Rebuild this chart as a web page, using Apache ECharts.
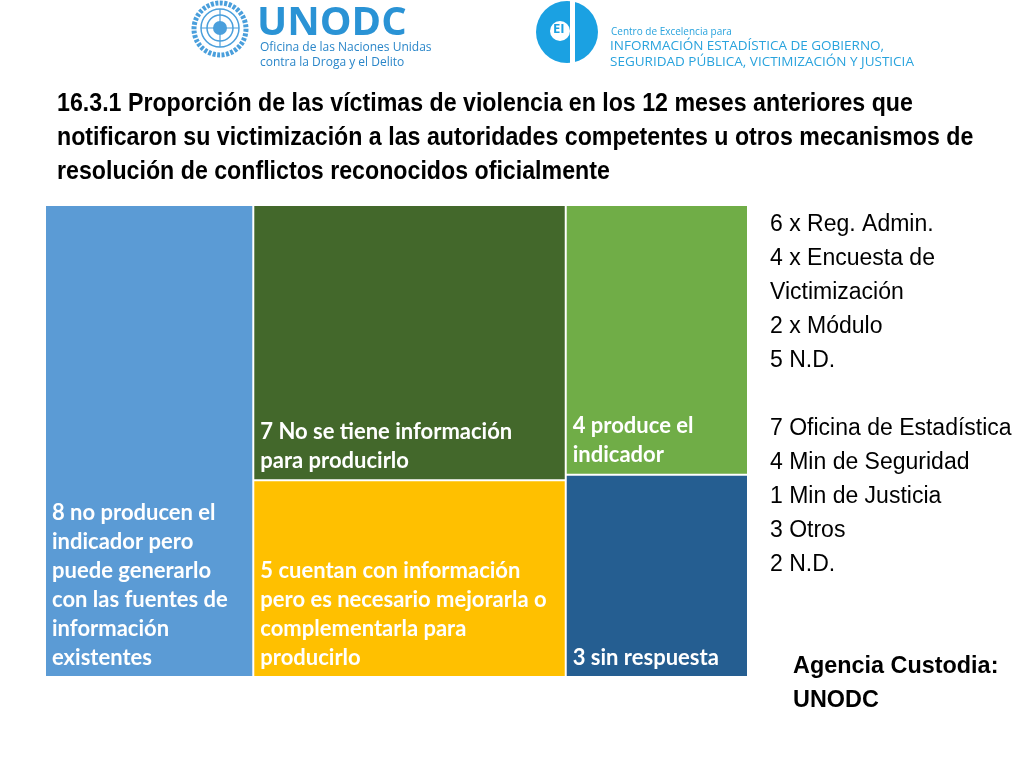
<!DOCTYPE html>
<html>
<head>
<meta charset="utf-8">
<script src="https://cdn.jsdelivr.net/npm/echarts@6/dist/echarts.min.js"></script>
<style>html,body{margin:0;padding:0;background:#fff;}#c{width:1024px;height:768px;}</style>
</head>
<body>
<div id="c"></div>
<script>
// ---- data ----
const leafNames = [
  '8 no producen el\nindicador pero\npuede generarlo\ncon las fuentes de\ninformación\nexistentes',
  '7 No se tiene información\npara producirlo',
  '5 cuentan con información\npero es necesario mejorarla o\ncomplementarla para\nproducirlo',
  '4 produce el\nindicador',
  '3 sin respuesta'
];
const leafValues = [8, 7, 5, 4, 3];
const leafGroup = [0, 1, 1, 2, 2];   // grouping (columns) as in the reference
const titleText = '16.3.1 Proporción de las víctimas de violencia en los 12 meses anteriores que\nnotificaron su victimización a las autoridades competentes u otros mecanismos de\nresolución de conflictos reconocidos oficialmente';
const sideLines = ['6 x Reg. Admin.', '4 x Encuesta de', 'Victimización', '2 x Módulo', '5 N.D.', '', '7 Oficina de Estadística', '4 Min de Seguridad', '1 Min de Justicia', '3 Otros', '2 N.D.'];
const agencyLines = ['Agencia Custodia:', 'UNODC'];

// ---- styles ----
const leafColors = ['#5B9BD5', '#43682B', '#FFC000', '#70AD47', '#255E91'];

// build tree
const groups = [];
leafNames.forEach((n, i) => {
  const g = leafGroup[i];
  if (!groups[g]) groups[g] = [];
  groups[g].push({ name: n, value: leafValues[i], itemStyle: { color: leafColors[i] } });
});
const treeData = groups.map((ch, gi) => {
  if (ch.length === 1) return ch[0];
  return { name: 'g' + gi, value: ch.reduce((s, c) => s + c.value, 0), children: ch };
});

const chart = echarts.init(document.getElementById('c'));
const blue = '#2a93d5';
const arial = 'Liberation Sans, Arial, sans-serif';
chart.setOption({
  backgroundColor: '#fff',
  animation: false,
  series: [{
    type: 'treemap',
    left: 46, top: 206, width: 701, height: 470,
    roam: false, nodeClick: false, sort: false, squareRatio: 1,
    breadcrumb: { show: false },
    silent: true,
    itemStyle: { borderWidth: 0, gapWidth: 2, borderColor: '#fff' },
    upperLabel: { show: false },
    label: {
      show: true, position: 'insideBottomLeft', distance: 0,
      padding: [0, 0, 4, 6],
      color: '#fff', fontFamily: 'Lato', fontWeight: 'bold', fontSize: 22, lineHeight: 29,
      overflow: 'none',
      formatter: '{b}'
    },
    emphasis: { disabled: true },
    data: treeData
  }],
  graphic: [
    // title (narrow bold look)
    { type: 'text', x: 57, y: 87, scaleX: 0.892, style: { x: 0, y: 0, text: titleText, fontFamily: arial, fontWeight: 'bold', fontSize: 26, lineHeight: 34, fill: '#000', verticalAlign: 'top' } },
    // UN emblem approximation
    { type: 'circle', shape: { cx: 220, cy: 29, r: 26 }, style: { fill: 'none', stroke: '#4a9fdc', lineWidth: 5, lineDash: [3, 1.5] } },
    { type: 'circle', shape: { cx: 220, cy: 28, r: 19 }, style: { fill: 'none', stroke: '#4a9fdc', lineWidth: 1.5 } },
    { type: 'circle', shape: { cx: 220, cy: 28, r: 13 }, style: { fill: 'none', stroke: '#4a9fdc', lineWidth: 1.5 } },
    { type: 'circle', shape: { cx: 220, cy: 28, r: 7 }, style: { fill: '#4a9fdc' } },
    { type: 'line', shape: { x1: 201, y1: 28, x2: 239, y2: 28 }, style: { stroke: '#4a9fdc', lineWidth: 1.2 } },
    { type: 'line', shape: { x1: 220, y1: 9, x2: 220, y2: 47 }, style: { stroke: '#4a9fdc', lineWidth: 1.2 } },
    { type: 'text', x: 257, y: 4, style: { x: 0, y: 0, text: 'UNODC', fontFamily: 'Open Sans', fontWeight: 'bold', fontSize: 40, fill: blue, verticalAlign: 'top' } },
    { type: 'text', x: 260, y: 40, style: { x: 0, y: 0, text: 'Oficina de las Naciones Unidas\ncontra la Droga y el Delito', fontFamily: 'Open Sans', fontSize: 12, lineHeight: 15, fill: '#2a86c9', verticalAlign: 'top' } },
    // CEI logo approximation
    { type: 'circle', shape: { cx: 567, cy: 32, r: 31 }, style: { fill: '#1ba1e2' } },
    { type: 'rect', shape: { x: 570, y: 0, width: 5, height: 64 }, style: { fill: '#fff' } },
    { type: 'circle', shape: { cx: 560, cy: 31, r: 10 }, style: { fill: '#fff' } },
    { type: 'text', x: 553, y: 23, style: { x: 0, y: 0, text: 'EI', fontFamily: 'Open Sans', fontWeight: 'bold', fontSize: 13, fill: '#1ba1e2', verticalAlign: 'top' } },
    { type: 'text', x: 611, y: 27, style: { x: 0, y: 0, text: 'Centro de Excelencia para', fontFamily: 'Open Sans', fontSize: 10, fill: '#29a3dd', verticalAlign: 'top' } },
    { type: 'text', x: 610, y: 38, style: { x: 0, y: 0, text: 'INFORMACIÓN ESTADÍSTICA DE GOBIERNO,\nSEGURIDAD PÚBLICA, VICTIMIZACIÓN Y JUSTICIA', fontFamily: 'Open Sans', fontSize: 13.5, lineHeight: 16, fill: '#29a3dd', verticalAlign: 'top' } },
    // right side texts
    { type: 'text', x: 770, y: 208, style: { x: 0, y: 0, text: sideLines.join('\n'), fontFamily: arial, fontSize: 23, lineHeight: 34, fill: '#000', verticalAlign: 'top' } },
    { type: 'text', x: 793, y: 649, scaleX: 0.975, style: { x: 0, y: 0, text: agencyLines.join('\n'), fontFamily: arial, fontWeight: 'bold', fontSize: 24, lineHeight: 34, fill: '#000', verticalAlign: 'top' } }
  ]
});
</script>
</body>
</html>
